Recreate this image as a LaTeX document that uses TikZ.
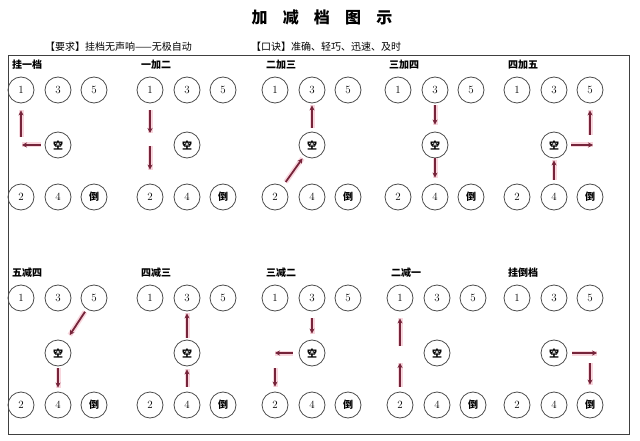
\documentclass[tikz,border=0pt]{standalone}
\usepackage{fontspec}
\newfontfamily\cjk{Noto Sans CJK SC}
\usetikzlibrary{arrows.meta}
\definecolor{arrowred}{RGB}{118,36,58}
\definecolor{glowred}{RGB}{248,215,222}
\begin{document}
\begin{tikzpicture}[x=1pt,y=-1pt,
    gear/.style={circle,draw=black!70,line width=.8pt,minimum size=26pt,inner sep=0pt,font=\fontsize{11}{11}\selectfont},
    move/.style={-{Stealth[length=5pt,width=5pt]},draw=arrowred,line width=1.8pt,
      preaction={draw=glowred,line width=5pt,-}}]
        \useasboundingbox (0,0) rectangle (640,441);
        \node[font=\cjk\bfseries\fontsize{16}{16}\selectfont] (title) at (322,17)
          {加\hspace{.95em}减\hspace{.95em}档\hspace{.95em}图\hspace{.95em}示};
        \node[anchor=west,font=\cjk\fontsize{10}{10}\selectfont,inner sep=0pt] (req) at (45,47) {【要求】挂档无声响——无极自动};
        \node[anchor=west,font=\cjk\fontsize{10}{10}\selectfont,inner sep=0pt] (tip) at (251,47) {【口诀】准确、轻巧、迅速、及时};
        \draw[black!75,line width=1pt] (8,56) rectangle (629,434);
        % the ten gate patterns
        \foreach \p/\x/\y/\t in {a1/21/90/挂一档,a2/150/90/一加二,a3/275/90/二加三,a4/398/90/三加四,a5/517/90/四加五,
                                 b1/21/298/五减四,b2/150/298/四减三,b3/275/298/三减二,b4/400/298/二减一,b5/517/298/挂倒档}{
          \node[anchor=west,inner sep=0pt,font=\cjk\bfseries\fontsize{10}{10}\selectfont] (\p-t) at (\x-9,\y-25) {\t};
          \node[gear] (\p-1) at (\x,\y) {1};
          \node[gear] (\p-3) at (\x+37,\y) {3};
          \node[gear] (\p-5) at (\x+73,\y) {5};
          \node[gear,font=\cjk\bfseries\fontsize{10}{10}\selectfont] (\p-n) at (\x+37,\y+55) {空};
          \node[gear] (\p-2) at (\x,\y+107) {2};
          \node[gear] (\p-4) at (\x+37,\y+107) {4};
          \node[gear,font=\cjk\bfseries\fontsize{10}{10}\selectfont] (\p-r) at (\x+73,\y+107) {倒};
          \coordinate (\p-cl) at (\p-1 |- \p-n);
          \coordinate (\p-cr) at (\p-5 |- \p-n);
        }
        % top row
        \draw[move,shorten <=4pt,shorten >=1pt] (a1-n) -- (a1-cl);
        \draw[move,shorten <=8pt,shorten >=7pt] (a1-cl) -- (a1-1);
        \draw[move,shorten <=7pt,shorten >=12pt] (a2-1) -- (a2-cl);
        \draw[move,shorten <=1pt,shorten >=14pt] (a2-cl) -- (a2-2);
        \draw[move,shorten <=5pt,shorten >=3pt] (a3-2) -- (a3-n);
        \draw[move,shorten <=4pt,shorten >=2pt] (a3-n) -- (a3-3);
        \draw[move,shorten <=2pt,shorten >=7pt] (a4-3) -- (a4-n);
        \draw[move,shorten <=0pt,shorten >=6pt] (a4-n) -- (a4-4);
        \draw[move,shorten <=4pt,shorten >=2pt] (a5-4) -- (a5-n);
        \draw[move,shorten <=4pt,shorten >=-3pt] (a5-n) -- (a5-cr);
        \draw[move,shorten <=10pt,shorten >=7pt] (a5-cr) -- (a5-5);
        % bottom row
        \draw[move,shorten <=3pt,shorten >=8pt] (b1-5) -- (b1-n);
        \draw[move,shorten <=2pt,shorten >=4pt] (b1-n) -- (b1-4);
        \draw[move,shorten <=5pt,shorten >=3pt] (b2-4) -- (b2-n);
        \draw[move,shorten <=2pt,shorten >=2pt] (b2-n) -- (b2-3);
        \draw[move,shorten <=7pt,shorten >=6pt] (b3-3) -- (b3-n);
        \draw[move,shorten <=6pt,shorten >=0pt] (b3-n) -- (b3-cl);
        \draw[move,shorten <=15pt,shorten >=5pt] (b3-cl) -- (b3-2);
        \draw[move,shorten <=5pt,shorten >=10pt] (b4-2) -- (b4-cl);
        \draw[move,shorten <=7pt,shorten >=7pt] (b4-cl) -- (b4-1);
        \draw[move,shorten <=5pt,shorten >=-7pt] (b5-n) -- (b5-cr);
        \draw[move,shorten <=10pt,shorten >=7pt] (b5-cr) -- (b5-r);
      \end{tikzpicture}
\end{document}
